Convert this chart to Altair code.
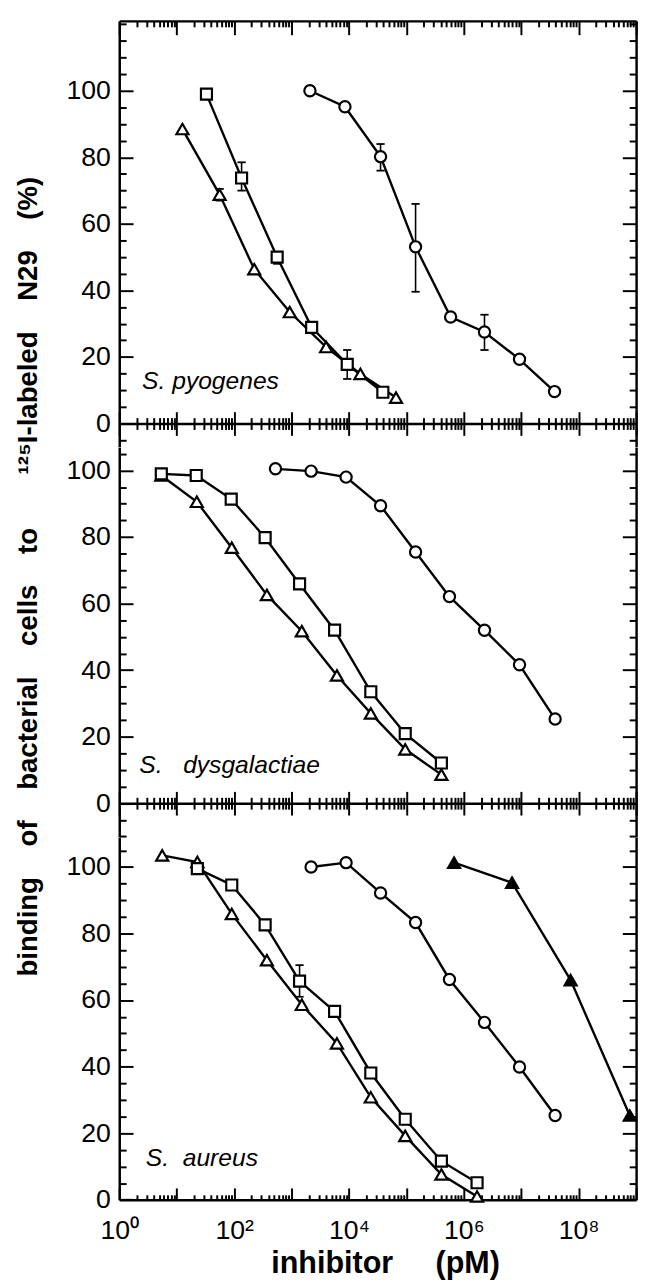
import altair as alt
import pandas as pd

# ---------------- data (x = inhibitor concentration in pM, y = binding %) ----------------
# Panel 1: S. pyogenes
p1_tri_x = [12.6, 56, 224, 930, 4000, 15800, 66000]
p1_tri_y = [88.5, 68.8, 46.4, 33.5, 23.0, 14.9, 7.8]
p1_sq_x = [33, 135, 562, 2240, 9330, 38900]
p1_sq_y = [99.0, 73.8, 50.0, 28.9, 17.8, 9.4]
p1_ci_x = [2090, 8510, 35500, 144500, 589000, 2290000, 9330000, 38000000]
p1_ci_y = [100.0, 95.2, 80.2, 53.1, 32.0, 27.5, 19.3, 9.6]
p1_err_x = [56, 135, 562, 9330, 35500, 144500, 2290000]
p1_err_lo = [67.0, 70.0, 48.0, 13.4, 76.0, 39.6, 22.1]
p1_err_hi = [70.5, 78.5, 51.5, 22.1, 84.0, 66.0, 32.7]

# Panel 2: S. dysgalactiae
p2_tri_x = [5.4, 22.4, 91, 372, 1510, 6170, 24000, 95500, 407000]
p2_tri_y = [98.5, 90.6, 76.8, 62.6, 51.7, 38.4, 27.0, 16.2, 8.6]
p2_sq_x = [5.4, 21.9, 89, 347, 1380, 5620, 24000, 95500, 407000]
p2_sq_y = [99.0, 98.5, 91.4, 79.8, 65.9, 52.0, 33.5, 20.9, 12.1]
p2_ci_x = [525, 2190, 8910, 35500, 144500, 562000, 2290000, 9330000, 38900000]
p2_ci_y = [100.5, 99.8, 98.0, 89.4, 75.5, 62.1, 52.0, 41.6, 25.3]

# Panel 3: S. aureus
p3_tri_x = [5.6, 22.9, 91, 372, 1510, 6170, 24000, 95500, 407000, 1700000]
p3_tri_y = [103.5, 101.5, 85.9, 72.0, 58.6, 47.0, 30.8, 19.2, 7.6, 1.0]
p3_sq_x = [22.9, 91, 347, 1380, 5620, 24000, 95500, 407000, 1700000]
p3_sq_y = [99.5, 94.6, 82.6, 65.7, 56.6, 38.1, 24.2, 11.6, 5.1]
p3_ci_x = [2190, 8910, 35500, 144500, 562000, 2290000, 9330000, 38900000]
p3_ci_y = [100.0, 101.3, 92.2, 83.3, 66.2, 53.3, 39.9, 25.3]
p3_ftri_x = [676000, 6920000, 72400000, 776000000]
p3_ftri_y = [101.3, 95.3, 66.0, 25.3]
p3_err_x = [1380]
p3_err_lo = [61.0]
p3_err_hi = [70.5]

species = ["S.\u00a0pyogenes", "S.\u00a0\u00a0\u00a0dysgalactiae", "S.\u00a0\u00a0aureus"]
species_x = [2.5, 2.24, 2.9]
species_y = [12.7, 11.6, 12.6]

y_domains = [(-7, 121), (-10, 107), (0, 109)]
y_labels = [0, 20, 40, 60, 80, 100]
x_labels = [1, 1e2, 1e4, 1e6, 1e8]
x_ticks = [k * 10.0 ** d for d in range(9) for k in range(1, 10)] + [1e9]

G = "\u00a0" * 4
y_title = ("binding" + G + "of" + G + "bacterial" + G + "cells" + G + "to" + G + "\u00a0\u00a0\u00a0"
           + "\u00b9\u00b2\u2075I-labeled" + G + "N29" + G + "(%)")
x_title = "inhibitor\u00a0\u00a0\u00a0\u00a0\u00a0(pM)"

# ---------------- layout ----------------
FONT = "Liberation Sans"
W = 525
PPU = 3.38
MAJOR_X = "abs(log(datum.value)/LN10 - round(log(datum.value)/LN10)) < 0.001"
MAJOR_Y = "datum.value % 20 == 0 && datum.value >= 0 && datum.value <= 100"
SUP = "['\u2070','\u00b9','\u00b2','\u00b3','\u2074','\u2075','\u2076','\u2077','\u2078','\u2079']"


def frame(series):
    rows = []
    for name, xs, ys in series:
        for a, b in zip(xs, ys):
            rows.append({"series": name, "x": a, "y": b})
    return pd.DataFrame(rows)


def x_tick_axis(orient, offset, major, minor, domain=True):
    return alt.Axis(orient=orient, offset=offset, values=x_ticks, labels=False, title=None,
                    grid=False, domain=domain, ticks=True,
                    tickSize={"condition": {"test": MAJOR_X, "value": major}, "value": minor})


def y_tick_axis(orient, vals):
    return alt.Axis(orient=orient, offset=-W, values=vals, labels=False, title=None,
                    grid=False, domain=True, ticks=True,
                    tickSize={"condition": {"test": MAJOR_Y, "value": 14}, "value": 7})


def panel(i, series, filled_series, err, show_ytitle):
    d0, d1 = y_domains[i]
    H = (d1 - d0) * PPU
    zero_px = d1 * PPU
    xs = alt.Scale(type="log", domain=[1, 1e9], nice=False)
    ys = alt.Scale(domain=[d0, d1], nice=False, zero=False)
    df = frame(series + filled_series)

    X = lambda ax=None: alt.X("x:Q", scale=xs, axis=ax)
    Y = lambda ax=None: alt.Y("y:Q", scale=ys, axis=ax)

    layers = []
    if err is not None:
        edf = pd.DataFrame({"x": err[0], "lo": err[1], "hi": err[2]})
        layers.append(alt.Chart(edf).mark_rule(color="black", strokeWidth=1.6).encode(
            x=X(), y=alt.Y("lo:Q", scale=ys, axis=None), y2="hi:Q"))
        cdf = pd.DataFrame({"x": list(err[0]) * 2, "y": list(err[1]) + list(err[2])})
        layers.append(alt.Chart(cdf).mark_point(shape="M-1,0L1,0", size=70, filled=False,
                                                stroke="black", strokeWidth=1.8, opacity=1).encode(
            x=X(), y=Y()))

    layers.append(alt.Chart(df).mark_line(color="black", strokeWidth=2.4).encode(
        x=X(), y=Y(), detail="series:N"))

    shapes = {"circle": ("circle", 130), "square": ("square", 125), "triangle": ("triangle-up", 150)}
    for name, xv, yv in series:
        shp, sz = shapes[name]
        sdf = pd.DataFrame({"x": xv, "y": yv})
        layers.append(alt.Chart(sdf).mark_point(shape=shp, size=sz, filled=True, fill="white",
                                                stroke="black", strokeWidth=2.2, opacity=1).encode(
            x=X(), y=Y()))
    for name, xv, yv in filled_series:
        sdf = pd.DataFrame({"x": xv, "y": yv})
        layers.append(alt.Chart(sdf).mark_point(shape="triangle-up", size=150, filled=True,
                                                fill="black", stroke="black", strokeWidth=2.2,
                                                opacity=1).encode(x=X(), y=Y()))

    tdf = pd.DataFrame({"x": [species_x[i]], "y": [species_y[i]], "t": [species[i]]})
    layers.append(alt.Chart(tdf).mark_text(font=FONT, fontSize=25, fontStyle="italic",
                                           align="left", baseline="middle", color="black").encode(
        x=X(), y=Y(), text="t:N"))

    # axes
    yvals = [v for v in range(-100, 200, 5) if d0 <= v <= d1]
    label_kw = dict(orient="left", values=y_labels, ticks=False, tickSize=0, domain=False,
                    labelPadding=9, labelFontSize=27, labelFont=FONT, grid=False)
    if show_ytitle:
        label_ax = alt.Axis(title=y_title, titleFont=FONT, titleFontSize=28, titleFontWeight="bold",
                            titleX=-84, titleY=131, titleBaseline="alphabetic", titleAngle=270,
                            **label_kw)
    else:
        label_ax = alt.Axis(title=None, **label_kw)
    y_axes = [label_ax, y_tick_axis("right", yvals), y_tick_axis("left", yvals)]

    if i == 0:
        x_axes = [x_tick_axis("bottom", -H, 14, 6),
                  x_tick_axis("top", -zero_px, 12, 6),
                  x_tick_axis("bottom", -(H - zero_px), 12, 6, domain=False)]
    elif i == 1:
        x_axes = [x_tick_axis("top", -zero_px, 12, 6),
                  x_tick_axis("bottom", -(H - zero_px), 12, 6, domain=False),
                  None]
    else:
        lab = alt.Axis(orient="bottom", values=x_labels, ticks=False, tickSize=0, domain=False,
                       labelExpr="'10' + " + SUP + "[round(log(datum.value)/LN10)]",
                       labelFontSize=27, labelFont=FONT, labelPadding=18, labelFlush=False,
                       labelOverlap=False, grid=False,
                       title=x_title, titleFont=FONT, titleFontSize=31, titleFontWeight="bold",
                       titlePadding=6, titleX=270, titleAlign="center")
        x_axes = [x_tick_axis("top", -H, 12, 5), lab, None]

    for xa, ya in zip(x_axes, y_axes):
        layers.append(alt.Chart(df).mark_point(opacity=0).encode(x=X(xa), y=Y(ya)))

    return alt.layer(*layers).resolve_axis(x="independent", y="independent").properties(
        width=W, height=H)


p1 = panel(0, [("triangle", p1_tri_x, p1_tri_y), ("square", p1_sq_x, p1_sq_y),
               ("circle", p1_ci_x, p1_ci_y)], [], (p1_err_x, p1_err_lo, p1_err_hi), False)
p2 = panel(1, [("triangle", p2_tri_x, p2_tri_y), ("square", p2_sq_x, p2_sq_y),
               ("circle", p2_ci_x, p2_ci_y)], [], None, True)
p3 = panel(2, [("triangle", p3_tri_x, p3_tri_y), ("square", p3_sq_x, p3_sq_y),
               ("circle", p3_ci_x, p3_ci_y)], [("ftri", p3_ftri_x, p3_ftri_y)],
           (p3_err_x, p3_err_lo, p3_err_hi), False)

chart = alt.vconcat(p1, p2, p3, spacing=0, bounds="flush").configure_view(
    stroke=None
).configure_axis(
    domainColor="black", domainWidth=2.5, tickColor="black", tickWidth=2,
    labelColor="black", titleColor="black"
).properties(padding={"left": 6, "top": 2, "right": 2, "bottom": 2})

chart.save("out.html", embed_options={"renderer": "svg", "actions": False})
